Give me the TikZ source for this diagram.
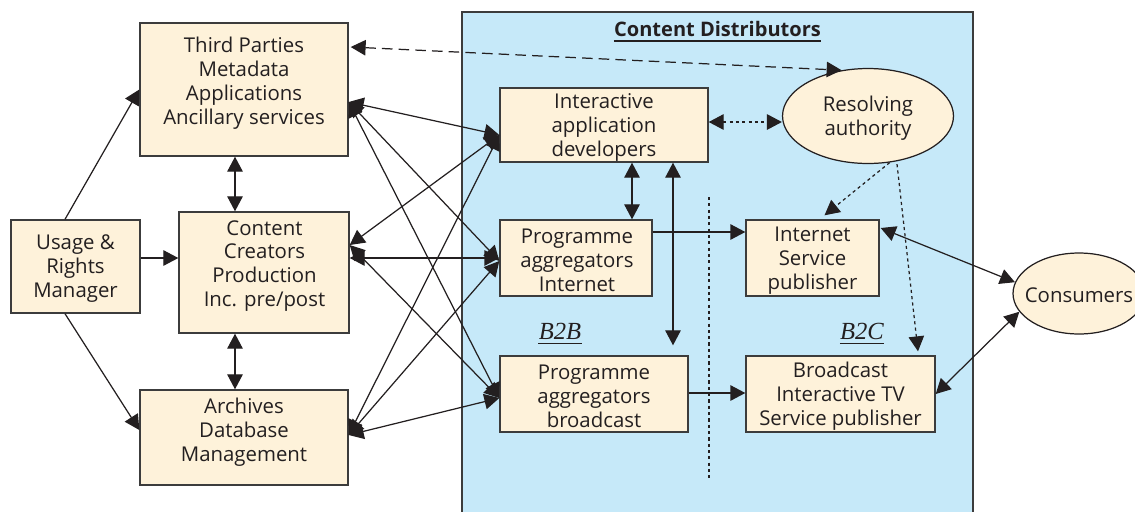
\documentclass[tikz,border=0pt]{standalone}
\usepackage{fontspec}
\setmainfont{Open Sans}
\newfontfamily\serifit{Liberation Serif}
\usetikzlibrary{arrows.meta,calc,shapes.geometric}
\definecolor{cream}{HTML}{FEF2DA}
\definecolor{skyb}{HTML}{C6E9F9}
\definecolor{edge}{HTML}{3C3C3C}
\definecolor{ink}{HTML}{231F20}
\begin{document}
\begin{tikzpicture}[x=0.02cm,y=-0.02cm,
  box/.style={draw=edge, line width=0.8pt, fill=cream, inner sep=0pt},
  oval/.style={ellipse, draw=ink, line width=0.7pt, fill=cream, inner sep=0pt},
  txt/.style={align=center, font=\fontsize{11.6}{13.6}\selectfont, text=ink, inner sep=0pt},
  conn/.style={line width=0.7pt, draw=ink},
  tip2/.style={{Triangle[length=8.5pt,width=8.8pt]}-{Triangle[length=8.5pt,width=8.8pt]}},
  tip1/.style={-{Triangle[length=8.5pt,width=8.8pt]}},
  dotl/.style={dash pattern=on 1.8pt off 1.8pt},
  dashl/.style={dash pattern=on 6pt off 3.5pt},
  bxlabel/.style={font=\serifit\itshape\fontsize{14}{14}\selectfont, text=ink, inner sep=0pt},
]
\useasboundingbox (0,0) rectangle (1135,511);

% container
\node[draw=edge, line width=0.8pt, fill=skyb, inner sep=0pt, minimum width=10.22cm, minimum height=10.4cm] (cd) at (717.5,272) {};
\node[font=\bfseries\fontsize{11.4}{13.6}\selectfont, text=ink, inner sep=0pt] (cdT) at (717.5,29) {Content Distributors};
\coordinate (u1) at ($(cdT.south west)+(0,4)$);
\coordinate (u2) at ($(cdT.south east)+(0,4)$);
\draw[line width=1.4pt, ink] (u1) -- (u2);

% left boxes
\node[box, minimum width=4.16cm, minimum height=2.66cm] (tp) at (244,89.5) {};
\node[txt] (tpT) at (244,83) {Third Parties\\Metadata\\Applications\\Ancillary services};
\node[box, minimum width=2.58cm, minimum height=1.86cm] (urm) at (75.5,266.5) {};
\node[txt] (urmT) at (75.5,268.5) {Usage \&\\Rights\\Manager};
\node[box, minimum width=3.4cm, minimum height=2.42cm] (cc) at (264,272.5) {};
\node[txt] (ccT) at (264.5,266) {Content\\Creators\\Production\\Inc. pre/post};
\node[box, minimum width=4.16cm, minimum height=1.9cm] (ar) at (244,437.5) {};
\node[txt] (arT) at (244,432) {Archives\\Database\\Management};

% distributor boxes
\node[box, minimum width=4.16cm, minimum height=1.48cm] (iad) at (604,125) {};
\node[txt] (iadT) at (604,127.5) {Interactive\\application\\developers};
\node[box, minimum width=3.04cm, minimum height=1.52cm] (pai) at (576,258) {};
\node[txt] (paiT) at (577,260.5) {Programme\\aggregators\\Internet};
\node[box, minimum width=3.76cm, minimum height=1.52cm] (pab) at (594,394) {};
\node[txt] (pabT) at (594,396.5) {Programme\\aggregators\\broadcast};
\node[box, minimum width=2.66cm, minimum height=1.52cm] (isp) at (812.5,258) {};
\node[txt] (ispT) at (812.5,260.5) {Internet\\Service\\publisher};
\node[box, minimum width=3.78cm, minimum height=1.52cm] (bitv) at (840.5,394) {};
\node[txt] (bitvT) at (840.5,396.5) {Broadcast\\Interactive TV\\Service publisher};
\node[oval, minimum width=3.42cm, minimum height=1.9cm] (ra) at (868,116) {};
\node[txt] (raT) at (868,118) {Resolving\\authority};
\node[oval, minimum width=2.64cm, minimum height=1.62cm] (cons) at (1079,293.5) {};
\node[txt] (consT) at (1079,295) {Consumers};

% B2B / B2C
\node[bxlabel] (b2b) at (560,331) {B2B};
\node[bxlabel] (b2c) at (862,331) {B2C};
\draw[line width=0.8pt, ink] ($(b2b.south west)+(0,4)$) -- ($(b2b.south east)+(0,4)$);
\draw[line width=0.8pt, ink] ($(b2c.south west)+(0,4)$) -- ($(b2c.south east)+(0,4)$);

% dotted divider
\coordinate (d1) at (709,197);
\coordinate (d2) at (709,480);
\draw[line width=0.6pt, ink, dotl] (d1) -- (d2);

% left connectors
\coordinate (urmN) at ($(urm.north)+(-10.5,0)$);
\coordinate (urmS) at ($(urm.south)+(-10.5,0)$);
\coordinate (arL) at ($(ar.west)+(0,-7.5)$);
\coordinate (ccL) at ($(cc.west)+(0,-14.5)$);
\draw[conn,tip1] (urmN) -- (tp.west);
\draw[conn,tip1] (urmS) -- (arL);
\draw[conn,tip1] (ccL -| urm.east) -- (ccL);
\coordinate (v1) at ($(tp.south)+(-9,0)$);
\draw[conn,tip2] (v1) -- (v1 |- cc.north);
\draw[conn,tip2] (v1 |- cc.south) -- (v1 |- ar.north);

% crossing connectors
\coordinate (tpR) at ($(tp.east)+(0,12.5)$);
\coordinate (ccR1) at ($(cc.east)+(0,-27.5)$);
\coordinate (ccR2) at ($(cc.east)+(0,-14.5)$);
\coordinate (arR) at ($(ar.east)+(0,-2.5)$);
\coordinate (iadL) at ($(iad.west)+(0,10)$);
\coordinate (paiL) at ($(pai.west)+(0,3)$);
\coordinate (pabL) at ($(pab.west)+(0,4)$);
\draw[conn,tip2] (tpR) -- (iadL);
\draw[conn,tip2] (tpR) -- (paiL);
\draw[conn,tip2] (tpR) -- (pabL);
\draw[conn,tip2] (ccR1) -- (iadL);
\draw[conn,tip2] (ccR2) -- (pai.west);
\draw[conn,tip2] (ccR1) -- (pabL);
\draw[conn,tip2] (arR) -- (iadL);
\draw[conn,tip2] (arR) -- (paiL);
\draw[conn,tip2] (arR) -- (pabL);

% dashed top connector
\coordinate (tpD) at ($(tp.east)+(2,-42.5)$);
\draw[conn,tip2,dashl] (tpD) -- (ra.120);

% distributor connectors
\coordinate (iadR) at ($(iad.east)+(0,-3)$);
\draw[conn,tip2,dotl] (iadR) -- (iadR -| ra.west);
\coordinate (v2) at ($(iad.south)+(28,0)$);
\draw[conn,tip2] (v2) -- (v2 |- pai.north);
\coordinate (v3) at ($(iad.south)+(69,0)$);
\coordinate (v3b) at ($(v3 |- pab.north)+(0,-10)$);
\draw[conn,tip2] (v3) -- (v3b);
\coordinate (paiR) at ($(pai.east)+(0,-26)$);
\draw[conn,tip1] (paiR) -- (paiR -| isp.west);
\coordinate (pabR) at ($(pab.east)+(0,-1)$);
\draw[conn,tip1] (pabR) -- (pabR -| bitv.west);
\coordinate (ispN) at ($(isp.north)+(12,-4)$);
\draw[conn,tip1,dotl] (ra.-65) -- (ispN);
\coordinate (bitvN) at ($(bitv.north)+(77.5,-4)$);
\coordinate (raB) at ($(ra.south)+(29,0)$);
\draw[conn,tip1,dotl] (raB) -- (bitvN);
\coordinate (ispR) at ($(isp.east)+(1,-30)$);
\draw[conn,tip2] (ispR) -- (cons.170);
\draw[conn,tip2] (bitv.east) -- (cons.197);
\end{tikzpicture}
\end{document}
